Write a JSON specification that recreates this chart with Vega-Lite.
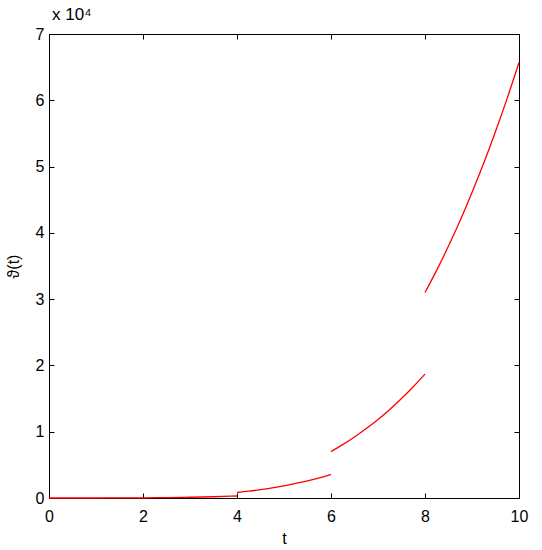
{
  "$schema": "https://vega.github.io/schema/vega-lite/v6.json",
  "autosize": {"type": "none"},
  "width": 470,
  "height": 464,
  "padding": {"left": 49, "top": 34, "right": 23, "bottom": 52},
  "background": "white",
  "title": {"text": "x 10⁴", "anchor": "start", "frame": "group", "font": "Liberation Sans", "fontSize": 17, "fontWeight": "normal", "color": "black", "offset": 2, "dx": 3},
  "config": {
    "view": {"stroke": "black", "strokeWidth": 1},
    "axis": {"labelFont": "Liberation Sans", "titleFont": "Liberation Sans", "labelFontSize": 16, "titleFontSize": 16, "titleFontWeight": "normal", "labelColor": "black", "titleColor": "black", "domainColor": "black", "tickColor": "black", "grid": false, "tickSize": -5, "labelFlush": false, "labelOverlap": false}
  },
  "data": {"values": [
    {"t": 0, "v": 0, "seg": 1}, {"t": 0.5, "v": 0.2, "seg": 1}, {"t": 1, "v": 2.3, "seg": 1}, {"t": 1.5, "v": 9.7, "seg": 1},
    {"t": 2, "v": 26.5, "seg": 1}, {"t": 2.5, "v": 58, "seg": 1}, {"t": 3, "v": 110, "seg": 1}, {"t": 3.5, "v": 188, "seg": 1}, {"t": 4, "v": 300, "seg": 1},
    {"t": 4, "v": 830, "seg": 2}, {"t": 4.25, "v": 1031, "seg": 2}, {"t": 4.5, "v": 1266, "seg": 2}, {"t": 4.75, "v": 1536, "seg": 2},
    {"t": 5, "v": 1845, "seg": 2}, {"t": 5.25, "v": 2197, "seg": 2}, {"t": 5.5, "v": 2595, "seg": 2}, {"t": 5.75, "v": 3043, "seg": 2}, {"t": 6, "v": 3550, "seg": 2},
    {"t": 6, "v": 7000, "seg": 3}, {"t": 6.25, "v": 8050, "seg": 3}, {"t": 6.5, "v": 9200, "seg": 3}, {"t": 6.75, "v": 10470, "seg": 3},
    {"t": 7, "v": 11850, "seg": 3}, {"t": 7.25, "v": 13360, "seg": 3}, {"t": 7.5, "v": 15000, "seg": 3}, {"t": 7.75, "v": 16780, "seg": 3}, {"t": 8, "v": 18700, "seg": 3},
    {"t": 8, "v": 31000, "seg": 4}, {"t": 8.25, "v": 34380, "seg": 4}, {"t": 8.5, "v": 38010, "seg": 4}, {"t": 8.75, "v": 41910, "seg": 4},
    {"t": 9, "v": 46100, "seg": 4}, {"t": 9.25, "v": 50530, "seg": 4}, {"t": 9.5, "v": 55290, "seg": 4}, {"t": 9.75, "v": 60330, "seg": 4}, {"t": 10, "v": 65700, "seg": 4}
  ]},
  "layer": [
    {
      "mark": {"type": "line", "color": "#ff0000", "strokeWidth": 1.3, "interpolate": "monotone"},
      "encoding": {
        "x": {"field": "t", "type": "quantitative", "scale": {"domain": [0, 10], "nice": false, "zero": false}, "axis": {"title": "t", "values": [0, 2, 4, 6, 8, 10], "labelPadding": 15, "titlePadding": 6}},
        "y": {"field": "v", "type": "quantitative", "scale": {"domain": [0, 70000], "nice": false}, "axis": {"title": "ϑ(t)", "values": [0, 10000, 20000, 30000, 40000, 50000, 60000, 70000], "labelExpr": "datum.value / 10000", "labelPadding": 10, "titlePadding": 14}},
        "detail": {"field": "seg", "type": "nominal"}
      }
    },
    {
      "mark": {"type": "line", "opacity": 0},
      "encoding": {
        "x": {"field": "t", "type": "quantitative", "axis": {"orient": "top", "title": null, "labels": false, "values": [0, 2, 4, 6, 8, 10]}},
        "y": {"field": "v", "type": "quantitative", "axis": {"orient": "right", "title": null, "labels": false, "values": [0, 10000, 20000, 30000, 40000, 50000, 60000, 70000]}},
        "detail": {"field": "seg", "type": "nominal"}
      }
    }
  ],
  "resolve": {"axis": {"x": "independent", "y": "independent"}}
}
